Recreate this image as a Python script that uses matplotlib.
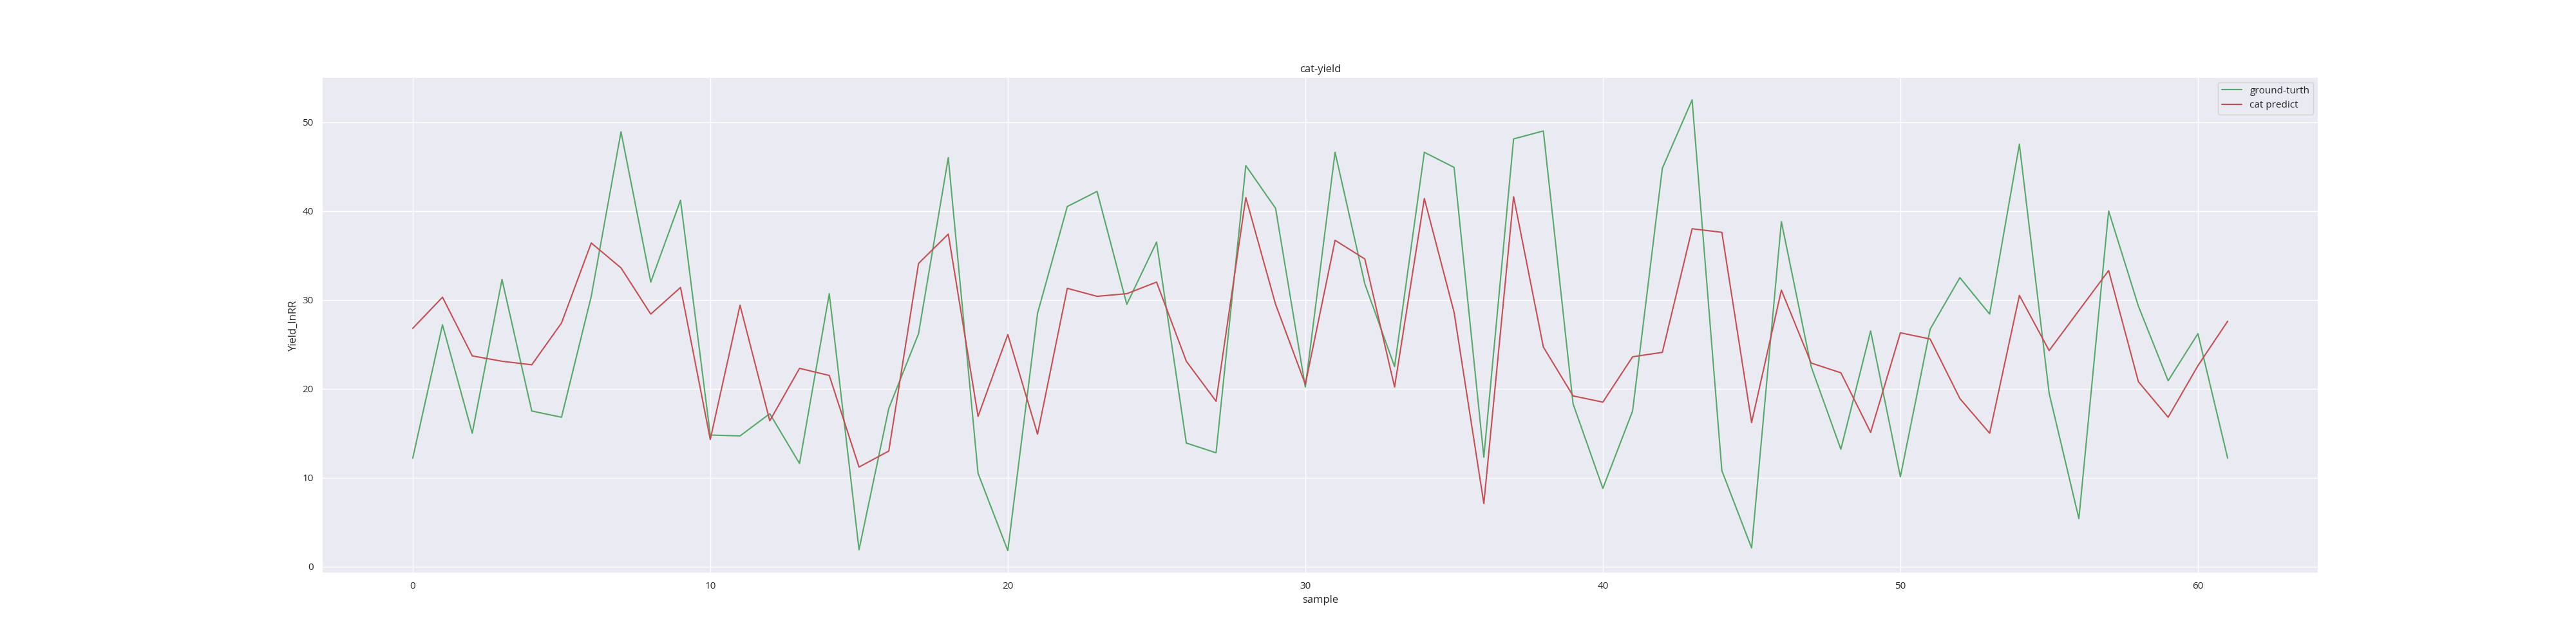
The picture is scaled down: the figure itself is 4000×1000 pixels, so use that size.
import matplotlib
matplotlib.use('Agg')
import matplotlib.pyplot as plt
import seaborn as sns

sample = list(range(62))
ground_truth = [12.2, 27.2, 15.0, 32.3, 17.5, 16.8, 30.4, 48.9, 32.0, 41.2,
                14.8, 14.7, 17.2, 11.6, 30.7, 1.9, 17.8, 26.2, 46.0, 10.5,
                1.8, 28.5, 40.5, 42.2, 29.5, 36.5, 13.9, 12.8, 45.1, 40.3,
                20.2, 46.6, 31.8, 22.5, 46.6, 44.9, 12.3, 48.1, 49.0, 18.3,
                8.8, 17.5, 44.8, 52.5, 10.8, 2.1, 38.8, 22.5, 13.2, 26.5,
                10.1, 26.7, 32.5, 28.4, 47.5, 19.5, 5.4, 40.0, 29.3, 20.9,
                26.2, 12.2]
cat_predict = [26.8, 30.3, 23.7, 23.1, 22.7, 27.4, 36.4, 33.6, 28.4, 31.4,
               14.3, 29.4, 16.4, 22.3, 21.5, 11.2, 13.0, 34.1, 37.4, 16.9,
               26.1, 14.9, 31.3, 30.4, 30.7, 32.0, 23.1, 18.6, 41.5, 29.5,
               20.5, 36.7, 34.6, 20.2, 41.4, 28.6, 7.1, 41.6, 24.7, 19.2,
               18.5, 23.6, 24.1, 38.0, 37.6, 16.2, 31.1, 22.9, 21.8, 15.1,
               26.3, 25.6, 18.9, 15.0, 30.5, 24.3, 28.8, 33.3, 20.8, 16.8,
               22.6, 27.6]

sns.set_theme(style='darkgrid', color_codes=True)
plt.rcParams['font.family'] = ['Open Sans', 'DejaVu Sans']

plt.figure(figsize=(40, 10), dpi=100)
plt.plot(sample, ground_truth, 'g', label='ground-turth')
plt.plot(sample, cat_predict, 'r', label='cat predict')
plt.title('cat-yield')
plt.xlabel('sample')
plt.ylabel('Yield_lnRR')
plt.legend(loc='upper right')
plt.savefig('out.png')
